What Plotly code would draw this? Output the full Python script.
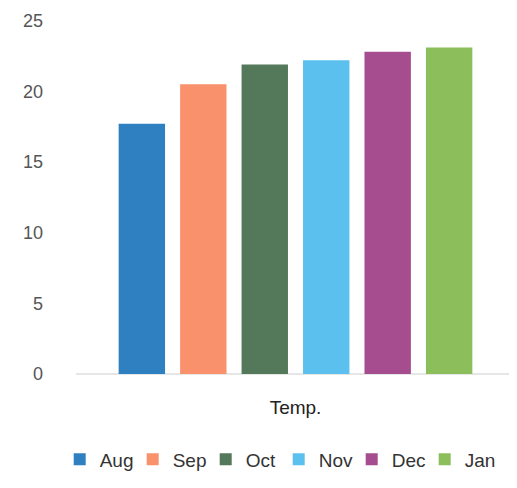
import plotly.graph_objects as go

categories = ["Temp."]
months = ["Aug", "Sep", "Oct", "Nov", "Dec", "Jan"]
values = [17.7, 20.5, 21.9, 22.2, 22.8, 23.1]
colors = ["#2f80c0", "#f9916c", "#53785a", "#5cc0ee", "#a54d8e", "#8cbf5c"]
y_ticks = [0, 5, 10, 15, 20, 25]

fig = go.Figure()
for m, v, c in zip(months, values, colors):
    fig.add_trace(go.Bar(name=m, x=categories, y=[v], marker=dict(color=c, line=dict(width=0))))

fig.update_layout(
    width=517, height=488,
    margin=dict(l=68, r=10, t=12, b=122, autoexpand=False),
    paper_bgcolor="white", plot_bgcolor="white",
    barmode="group", bargap=0.16, bargroupgap=0.245,
    font=dict(family="Liberation Sans, Arial, sans-serif", color="#444", size=15),
    showlegend=True,
    legend=dict(orientation="h", xref="container", x=0.1, xanchor="left",
                yref="container", y=0.075, yanchor="middle",
                font=dict(size=19, color="#333"), itemwidth=30, tracegroupgap=0,
                entrywidth=28, entrywidthmode="pixels", itemsizing="constant"),
    xaxis=dict(showgrid=False, showline=False, ticks="", tickfont=dict(size=19, color="#222"),
               ticklabelstandoff=20, automargin=False),
    yaxis=dict(range=[0, 25.05], tickvals=y_ticks, showgrid=False, zeroline=True,
               zerolinecolor="#e6e6e6", showline=False, ticks="", automargin=False,
               tickfont=dict(size=18, color="#555"), ticklabelstandoff=32),
)

fig.write_html("out.html")
